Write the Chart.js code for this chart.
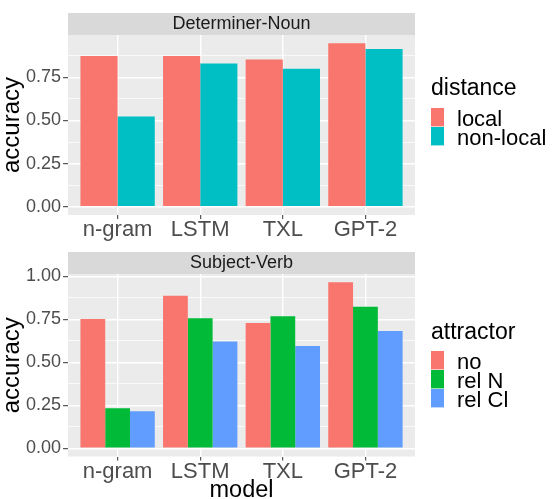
<!DOCTYPE html>
<html>
<head>
<meta charset="utf-8">
<script src="https://cdn.jsdelivr.net/npm/chart.js@4.4.0/dist/chart.umd.min.js"></script>
<style>
  body { margin: 0; background: #fff; }
  .panel { position: absolute; left: 0; width: 552px; }
</style>
</head>
<body>
<div class="panel" style="top:0;height:241px"><canvas id="detNoun"></canvas></div>
<div class="panel" style="top:241px;height:258px"><canvas id="subjVerb"></canvas></div>
<script>
// data
const models = ['n-gram', 'LSTM', 'TXL', 'GPT-2'];
const detLocal = [0.874, 0.874, 0.853, 0.948];
const detNonLocal = [0.523, 0.830, 0.800, 0.915];
const svNo = [0.753, 0.887, 0.729, 0.966];
const svRelN = [0.233, 0.757, 0.769, 0.824];
const svRelCl = [0.215, 0.622, 0.595, 0.682];
const majorTicks = [0, 0.25, 0.5, 0.75, 1.0];

Chart.defaults.font.family = '"Liberation Sans", Arial, sans-serif';

const isMajor = v => majorTicks.some(m => Math.abs(m - v) < 1e-6);
const toPoints = arr => arr.map((v, i) => ({ x: i, y: v }));

// grey panel + facet strip, like ggplot's theme_gray
const ggPanel = {
    id: 'ggPanel',
    beforeDraw(chart) {
        const c = chart.ctx, a = chart.chartArea, t = chart.titleBlock;
        c.save();
        c.fillStyle = '#d9d9d9';
        c.fillRect(a.left, t.top, a.right - a.left, a.top - t.top);
        c.fillStyle = '#ebebeb';
        c.fillRect(a.left, a.top, a.right - a.left, a.bottom - a.top);
        c.restore();
    }
};

// legend on the right, drawn from the datasets
const ggLegend = {
    id: 'ggLegend',
    afterDraw(chart, args, opts) {
        const c = chart.ctx;
        c.save();
        c.fillStyle = '#000';
        c.textBaseline = 'alphabetic';
        c.font = '23px "Liberation Sans", Arial, sans-serif';
        c.fillText(opts.title, opts.x, opts.titleY);
        c.font = '22px "Liberation Sans", Arial, sans-serif';
        chart.data.datasets.forEach((ds, i) => {
            const y = opts.keyY + i * opts.step;
            c.fillStyle = ds.backgroundColor;
            c.fillRect(opts.x, y, 13, opts.step - 0.6);
            c.fillStyle = '#000';
            c.fillText(ds.label, opts.x + 26, y + opts.step / 2 + 8);
        });
        c.restore();
    }
};

function panelOptions(strip, values, legend, xTitle, padTop) {
    const top = Math.max(...values.flat());
    return {
        responsive: true,
        maintainAspectRatio: false,
        animation: false,
        layout: { padding: { top: padTop, left: 0, right: 137, bottom: 0 } },
        plugins: {
            legend: { display: false },
            tooltip: { enabled: false },
            title: {
                display: true, text: strip, fullSize: false, color: '#1a1a1a',
                font: { size: 18, lineHeight: 22 / 18, weight: 'normal' }, padding: 0
            },
            ggLegend: legend
        },
        datasets: { bar: { categoryPercentage: 0.9, barPercentage: 1.0 } },
        scales: {
            x: {
                type: 'linear', min: -0.6, max: 3.6, offset: false,
                grid: { offset: false, color: '#fff', lineWidth: 1.4, tickColor: '#333', tickLength: 4, tickWidth: 1 },
                border: { display: false },
                ticks: {
                    stepSize: 1, includeBounds: false, autoSkip: false, maxRotation: 0, padding: 0,
                    color: '#4d4d4d', font: { size: 22, lineHeight: 1.0 },
                    callback: v => models[v] ?? ''
                },
                title: {
                    display: !!xTitle, text: xTitle || '', color: '#000',
                    font: { size: 23.5, lineHeight: 0.7 }, padding: 0
                }
            },
            y: {
                min: -top * 0.05, max: top * 1.05,
                grid: {
                    color: '#fff',
                    lineWidth: ctx => (ctx.tick && isMajor(ctx.tick.value)) ? 1.4 : 0.7,
                    tickColor: ctx => (ctx.tick && isMajor(ctx.tick.value)) ? '#333' : 'rgba(0,0,0,0)',
                    tickLength: 5, tickWidth: 1
                },
                border: { display: false },
                ticks: {
                    stepSize: 0.125, includeBounds: false, autoSkip: false, padding: 2,
                    color: '#4d4d4d', font: { size: 18 },
                    callback: v => isMajor(v) ? v.toFixed(2) : ''
                },
                title: {
                    display: true, text: 'accuracy', color: '#000',
                    font: { size: 24, lineHeight: 1.0 }, padding: 0
                }
            }
        }
    };
}

new Chart(document.getElementById('detNoun'), {
    type: 'bar',
    data: {
        datasets: [
            { label: 'local', data: toPoints(detLocal), backgroundColor: '#F8766D' },
            { label: 'non-local', data: toPoints(detNonLocal), backgroundColor: '#00BFC4' }
        ]
    },
    options: panelOptions('Determiner-Noun', [detLocal, detNonLocal],
        { title: 'distance', x: 431, titleY: 95, keyY: 108, step: 19 }, null, 13),
    plugins: [ggPanel, ggLegend]
});

new Chart(document.getElementById('subjVerb'), {
    type: 'bar',
    data: {
        datasets: [
            { label: 'no', data: toPoints(svNo), backgroundColor: '#F8766D' },
            { label: 'rel N', data: toPoints(svRelN), backgroundColor: '#00BA38' },
            { label: 'rel Cl', data: toPoints(svRelCl), backgroundColor: '#619CFF' }
        ]
    },
    options: panelOptions('Subject-Verb', [svNo, svRelN, svRelCl],
        { title: 'attractor', x: 431, titleY: 98, keyY: 110, step: 19 }, 'model', 11),
    plugins: [ggPanel, ggLegend]
});
</script>
</body>
</html>
